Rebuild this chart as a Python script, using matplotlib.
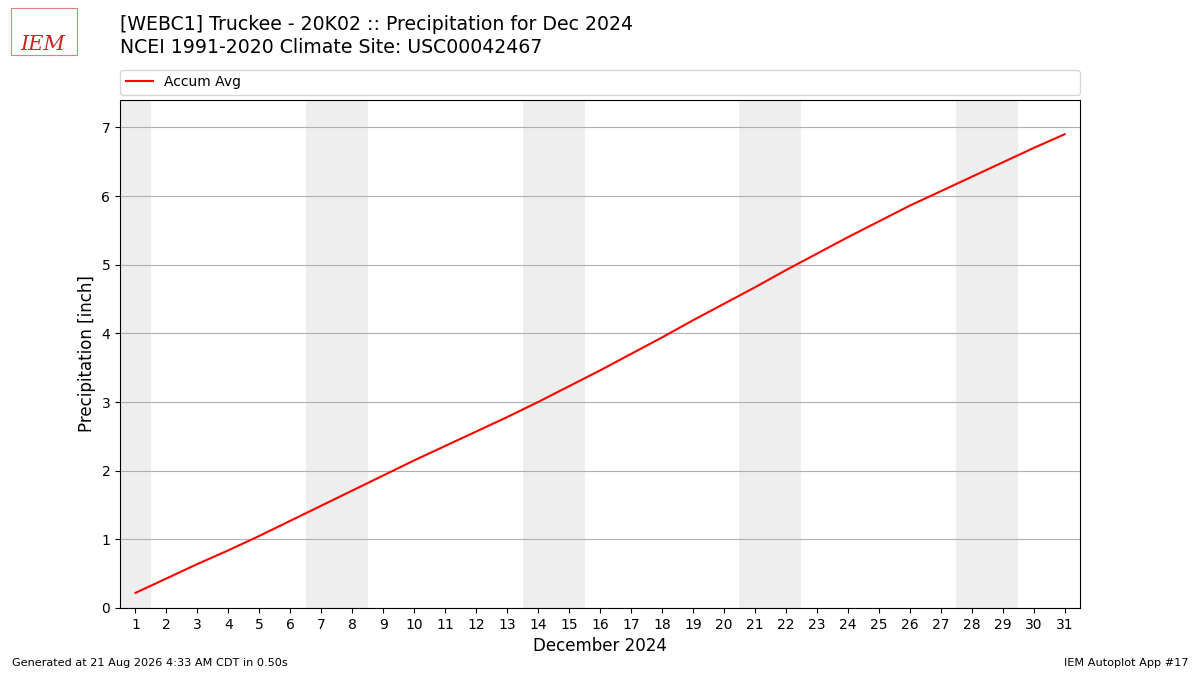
import matplotlib
matplotlib.use("Agg")
import matplotlib.pyplot as plt

# daily accumulated average precipitation, Dec 2024 (inch)
days = list(range(1, 32))
accum_avg = [0.22, 0.43, 0.64, 0.84, 1.05, 1.27, 1.49, 1.71, 1.93, 2.15,
             2.36, 2.57, 2.78, 3.00, 3.23, 3.46, 3.70, 3.94, 4.19, 4.43,
             4.67, 4.92, 5.16, 5.40, 5.63, 5.86, 6.07, 6.28, 6.49, 6.70,
             6.90]
# weekend spans (start day, end day)
weekends = [(1, 1), (7, 8), (14, 15), (21, 22), (28, 29)]

title1 = "[WEBC1] Truckee - 20K02 :: Precipitation for Dec 2024"
title2 = "NCEI 1991-2020 Climate Site: USC00042467"

fig = plt.figure(figsize=(12, 6.75), dpi=100)
ax = fig.add_axes([0.1, 0.0993, 0.8, 0.7526])

for start, end in weekends:
    ax.axvspan(start - 0.5, end + 0.5, color="#eeeeee", zorder=0, lw=0)

ax.plot(days, accum_avg, color="red", lw=1.5, label="Accum Avg", zorder=3)

ax.set_xlim(0.5, 31.5)
ax.set_ylim(0, 7.4)
ax.set_xticks(days)
ax.set_yticks(range(0, 8))
ax.grid(axis="y", color="#b0b0b0", lw=0.8)
ax.set_axisbelow(True)
ax.tick_params(labelsize=10)
ax.set_xlabel("December 2024", fontsize=12)
ax.set_ylabel("Precipitation [inch]", fontsize=12)

ax.legend(loc="lower left", bbox_to_anchor=(0, 1.01, 1, 0.05), mode="expand",
          ncol=1, fontsize=10, borderaxespad=0)

fig.text(0.1, 0.964, title1, fontsize=13.6, va="center")
fig.text(0.1, 0.93, title2, fontsize=13.6, va="center")

# rough stand-in for the IEM logo
fig.text(0.017, 0.934, "IEM", fontsize=15, color="#cc2222", family="serif",
         style="italic", va="center")
fig.patches.append(plt.Rectangle((0.009, 0.918), 0.055, 0.07, fill=False,
                                 edgecolor="#e08080", lw=0.8,
                                 transform=fig.transFigure, figure=fig))

fig.text(0.01, 0.013, "Generated at 21 Aug 2026 4:33 AM CDT in 0.50s", fontsize=8.1)
fig.text(0.99, 0.013, "IEM Autoplot App #17", fontsize=8.1, ha="right")

fig.savefig("out.png", dpi=100)
